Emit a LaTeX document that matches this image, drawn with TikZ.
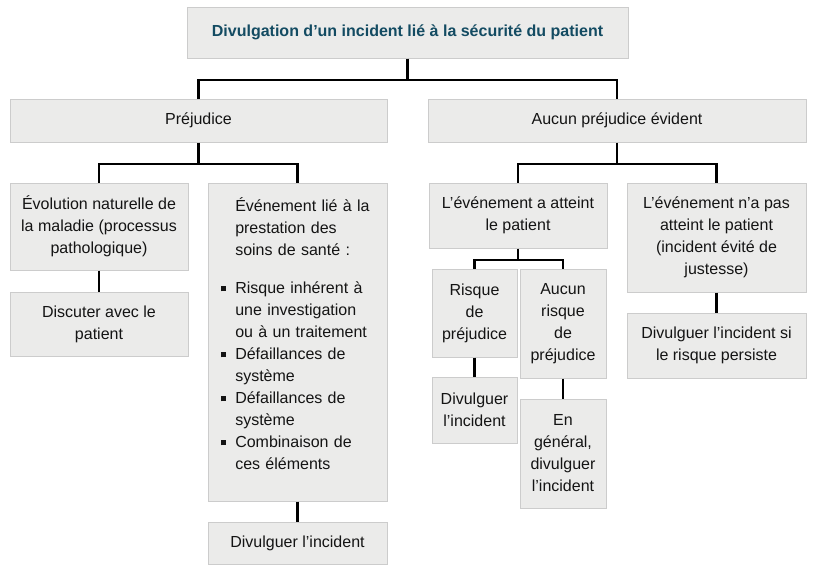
\documentclass[tikz,border=0pt]{standalone}
\usepackage{fontspec}
\setmainfont{Liberation Sans}
\definecolor{boxfill}{HTML}{EBEBEA}
\definecolor{boxline}{HTML}{CCCCCC}
\definecolor{txt}{HTML}{141414}
\definecolor{titletxt}{HTML}{134B62}
\newcommand{\bul}{\makebox[10.5pt][l]{\rule[1.3pt]{3.6pt}{3.6pt}}}
\newcommand{\ind}{\hspace*{10.5pt}}
\begin{document}
\begin{tikzpicture}[x=0.75pt,y=-0.75pt,
  box/.style={draw=boxline, fill=boxfill, line width=0.75pt, inner sep=0pt,
    align=center, font=\fontsize{12}{16.5}\selectfont, text=txt},
  bx/.style 2 args={minimum width=#1*0.75pt, minimum height=#2*0.75pt},
  conn/.style={line width=1.9pt, black},
  listtxt/.style={inner sep=0pt, align=left, text width=112.5pt,
    font=\fontsize{12}{16.5}\selectfont, text=txt}]
\useasboundingbox (0,0) rectangle (820,576);

\node[box, bx={441}{51}, text=titletxt, font=\fontsize{12}{16.5}\selectfont\bfseries] (title) at (407.5,32.5) {Divulgation d’un incident lié à la sécurité du patient};

\node[box, bx={377}{43}] (prej) at (198.5,120.5) {Préjudice};
\node[box, bx={378}{43}] (aucun) at (617,120.5) {Aucun préjudice évident};

\node[box, bx={178}{87}] (evol) at (99,226.5) {Évolution naturelle de\\la maladie (processus\\pathologique)};
\node[box, bx={178}{64}] (disc) at (99,324) {Discuter avec le\\patient};

\node[box, bx={179}{318}] (even) at (297.5,342) {};
\node[listtxt, anchor=base west] (evtxt) at (221,211) {\ind Événement lié à la\\\ind prestation des\\\ind soins de santé :\\[12pt]
\bul Risque inhérent à\\\ind une investigation\\\ind ou à un traitement\\
\bul Défaillances de\\\ind système\\
\bul Défaillances de\\\ind système\\
\bul Combinaison de\\\ind ces éléments};
\node[box, bx={179}{42}] (divA) at (297.5,543) {Divulguer l’incident};

\node[box, bx={178}{65}] (att) at (518,215.5) {L’événement a atteint\\le patient};
\node[box, bx={85}{88}] (risq) at (474.5,313) {Risque\\de\\préjudice};
\node[box, bx={86}{109}] (aucr) at (563,323.5) {Aucun\\risque\\de\\préjudice};
\node[box, bx={85}{66}] (divB) at (474.5,410) {Divulguer\\l’incident};
\node[box, bx={86}{109}] (engen) at (563,453.5) {En\\général,\\divulguer\\l’incident};

\node[box, bx={179}{109}] (natt) at (716.5,237.5) {L’événement n’a pas\\atteint le patient\\(incident évité de\\justesse)};
\node[box, bx={179}{65}] (divC) at (716.5,345.5) {Divulguer l’incident si\\le risque persiste};

\coordinate (t1) at (408,80);
\draw[conn] (title.south) -- (title.south |- t1) -| (prej.north);
\draw[conn] (title.south |- t1) -| (aucun.north);

\coordinate (t2) at (199,164);
\draw[conn] (prej.south) -- (prej.south |- t2) -| (evol.north);
\draw[conn] (prej.south |- t2) -| (even.north);

\coordinate (t3) at (617,164);
\draw[conn] (aucun.south) -- (aucun.south |- t3) -| (att.north);
\draw[conn] (aucun.south |- t3) -| (natt.north);

\coordinate (t4) at (518,260);
\draw[conn] (att.south) -- (att.south |- t4) -| (risq.north);
\draw[conn] (att.south |- t4) -| (aucr.north);

\draw[conn] (evol.south) -- (disc.north);
\draw[conn] (even.south) -- (divA.north);
\draw[conn] (risq.south) -- (divB.north);
\draw[conn] (aucr.south) -- (engen.north);
\draw[conn] (natt.south) -- (divC.north);
\end{tikzpicture}
\end{document}
